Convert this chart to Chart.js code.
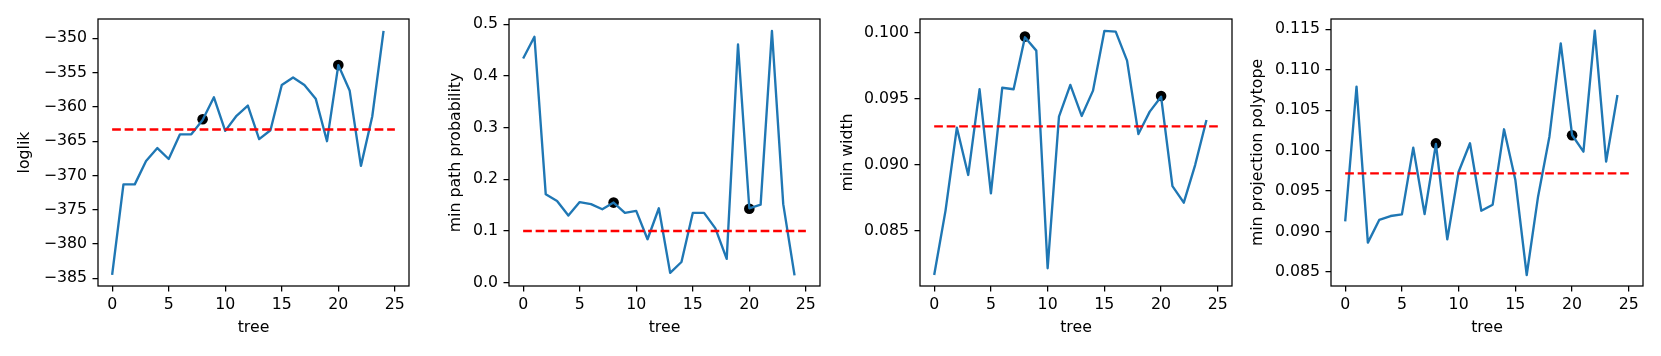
<!DOCTYPE html>
<html>
<head>
<meta charset="utf-8">
<script src="https://cdn.jsdelivr.net/npm/chart.js@4.4.1/dist/chart.umd.min.js"></script>
<style>
  html, body { margin: 0; padding: 0; background: #fff; width: 1661px; height: 356px; overflow: hidden; }
  canvas { position: absolute; top: 0; }
</style>
</head>
<body>
<script>
// ---- data ----
const trees = [0, 1, 2, 3, 4, 5, 6, 7, 8, 9, 10, 11, 12, 13, 14, 15, 16, 17, 18, 19, 20, 21, 22, 23, 24];

const loglik = [-384.5, -371.3, -371.3, -367.9, -366.0, -367.6, -364.0, -364.0, -361.9, -358.6, -363.5, -361.3, -359.8, -364.7, -363.4, -356.8, -355.7, -356.8, -358.8, -365.0, -353.9, -357.6, -368.6, -361.4, -348.9];
const minPathProb = [0.434, 0.476, 0.171, 0.158, 0.130, 0.156, 0.152, 0.142, 0.155, 0.135, 0.139, 0.084, 0.144, 0.019, 0.040, 0.135, 0.135, 0.105, 0.046, 0.461, 0.144, 0.151, 0.487, 0.152, 0.014];
const minWidth = [0.08164, 0.08652, 0.0928, 0.08922, 0.09571, 0.08783, 0.09583, 0.09571, 0.09965, 0.09864, 0.08215, 0.09364, 0.09604, 0.09369, 0.09561, 0.10013, 0.10008, 0.09788, 0.09232, 0.09402, 0.09515, 0.08838, 0.08712, 0.08997, 0.09338];
const minProjPolytope = [0.09126, 0.10791, 0.08863, 0.09143, 0.09192, 0.09213, 0.10037, 0.09217, 0.10082, 0.08904, 0.0974, 0.10091, 0.09258, 0.09332, 0.10264, 0.09637, 0.08463, 0.09431, 0.10173, 0.11327, 0.10194, 0.09988, 0.11484, 0.09864, 0.10688];

// selected trees (black dots)
const selectedTrees = [8, 20];
const loglikSelected = [-361.8, -353.9];
const minPathSelected = [0.155, 0.143];
const minWidthSelected = [0.0997, 0.0952];
const minProjSelected = [0.1009, 0.1019];

// reference (red dashed) levels, drawn from tree 0 to 25
const refX = [0, 25];
const loglikRef = -363.3;
const minPathRef = 0.1;
const minWidthRef = 0.0929;
const minProjRef = 0.0972;

// ticks
const xTicks = [0, 5, 10, 15, 20, 25];
const xTickLabels = ['0', '5', '10', '15', '20', '25'];
const loglikTicks = [-385, -380, -375, -370, -365, -360, -355, -350];
const loglikTickLabels = ['\u2212385', '\u2212380', '\u2212375', '\u2212370', '\u2212365', '\u2212360', '\u2212355', '\u2212350'];
const minPathTicks = [0.0, 0.1, 0.2, 0.3, 0.4, 0.5];
const minPathTickLabels = ['0.0', '0.1', '0.2', '0.3', '0.4', '0.5'];
const minWidthTicks = [0.085, 0.090, 0.095, 0.100];
const minWidthTickLabels = ['0.085', '0.090', '0.095', '0.100'];
const minProjTicks = [0.085, 0.090, 0.095, 0.100, 0.105, 0.110, 0.115];
const minProjTickLabels = ['0.085', '0.090', '0.095', '0.100', '0.105', '0.110', '0.115'];

const yLabels = ['loglik', 'min path probability', 'min width', 'min projection polytope'];
const xLabel = 'tree';

// ---- layout / style ----
const FONT = 'DejaVu Sans';
const FS = 15.75;
const LW = 2.36;     // data line width
const SPINE = 1.26;  // axes frame / tick width
const TICKLEN = 5.5;
const CANVAS_H = 356;
const AREA_TOP = 19, AREA_BOTTOM = 286;
const YW = 100; // y-axis box width

const panels = [
  { series: loglik, sel: loglikSelected, ref: loglikRef, ticks: loglikTicks, labels: loglikTickLabels,
    ylabel: yLabels[0], left: 98, right: 409, ymin: -386.12, ymax: -347.18, titlePad: 17.4 },
  { series: minPathProb, sel: minPathSelected, ref: minPathRef, ticks: minPathTicks, labels: minPathTickLabels,
    ylabel: yLabels[1], left: 509, right: 820, ymin: -0.00645, ymax: 0.5103, titlePad: 37.0 },
  { series: minWidth, sel: minWidthSelected, ref: minWidthRef, ticks: minWidthTicks, labels: minWidthTickLabels,
    ylabel: yLabels[2], left: 920, right: 1232, ymin: 0.080808, ymax: 0.101035, titlePad: 18.3 },
  { series: minProjPolytope, sel: minProjSelected, ref: minProjRef, ticks: minProjTicks, labels: minProjTickLabels,
    ylabel: yLabels[3], left: 1331, right: 1643, ymin: 0.083269, ymax: 0.116277, titlePad: 17.6 },
];

const boxPlugin = {
  id: 'box',
  afterDraw(chart) {
    const { ctx, chartArea: a } = chart;
    ctx.save();
    ctx.strokeStyle = '#000';
    ctx.lineWidth = SPINE;
    ctx.strokeRect(a.left, a.top, a.right - a.left, a.bottom - a.top);
    ctx.restore();
  }
};

panels.forEach((p) => {
  const RIGHT_PAD = 8;
  const w = YW + (p.right - p.left) + RIGHT_PAD;
  const cv = document.createElement('canvas');
  cv.width = w; cv.height = CANVAS_H;
  cv.style.left = (p.left - YW) + 'px';
  cv.style.width = w + 'px'; cv.style.height = CANVAS_H + 'px';
  document.body.appendChild(cv);

  const lineData = trees.map((t, i) => ({ x: t, y: p.series[i] }));
  const selData = selectedTrees.map((t, i) => ({ x: t, y: p.sel[i] }));
  const refData = refX.map((t) => ({ x: t, y: p.ref }));

  const gridOpts = {
    display: true, drawOnChartArea: false, drawTicks: true, tickLength: TICKLEN,
    tickColor: '#000', tickWidth: SPINE, color: '#000', lineWidth: SPINE
  };

  new Chart(cv, {
    type: 'line',
    data: {
      datasets: [
        { data: refData, borderColor: '#ff0000', borderWidth: LW, borderDash: [8.7, 3.8],
          pointRadius: 0, fill: false, order: 0 },
        { data: lineData, borderColor: '#1f77b4', borderWidth: LW, pointRadius: 0,
          tension: 0, fill: false, order: 1, borderJoinStyle: 'round', borderCapStyle: 'butt' },
        { type: 'scatter', data: selData, backgroundColor: '#000', borderColor: '#000',
          pointRadius: 5.3, pointBorderWidth: 0, showLine: false, order: 2 },
      ]
    },
    options: {
      responsive: false,
      animation: false,
      devicePixelRatio: 1,
      layout: { padding: { top: AREA_TOP, right: RIGHT_PAD, left: 0, bottom: 0 } },
      plugins: { legend: { display: false }, tooltip: { enabled: false } },
      scales: {
        x: {
          type: 'linear', min: -1.25, max: 26.25,
          grid: gridOpts,
          border: { display: false },
          afterFit(s) { s.height = CANVAS_H - AREA_BOTTOM; },
          afterBuildTicks(s) { s.ticks = xTicks.map(v => ({ value: v })); },
          ticks: {
            color: '#000', padding: 4.4, maxRotation: 0, autoSkip: false,
            font: { family: FONT, size: FS },
            callback: (v) => { const i = xTicks.indexOf(v); return i >= 0 ? xTickLabels[i] : ''; }
          },
          title: { display: true, text: xLabel, color: '#000', font: { family: FONT, size: FS },
                   padding: { top: 0, bottom: 18.6 } }
        },
        y: {
          type: 'linear', min: p.ymin, max: p.ymax,
          grid: gridOpts,
          border: { display: false },
          afterFit(s) { s.width = YW; },
          afterBuildTicks(s) { s.ticks = p.ticks.map(v => ({ value: v })); },
          ticks: {
            color: '#000', padding: 5.5, autoSkip: false,
            font: { family: FONT, size: FS },
            callback: (v) => { const i = p.ticks.indexOf(v); return i >= 0 ? p.labels[i] : ''; }
          },
          title: { display: true, text: p.ylabel, color: '#000', font: { family: FONT, size: FS },
                   padding: { top: p.titlePad, bottom: 0 } }
        }
      }
    },
    plugins: [boxPlugin]
  });
});
</script>
</body>
</html>
